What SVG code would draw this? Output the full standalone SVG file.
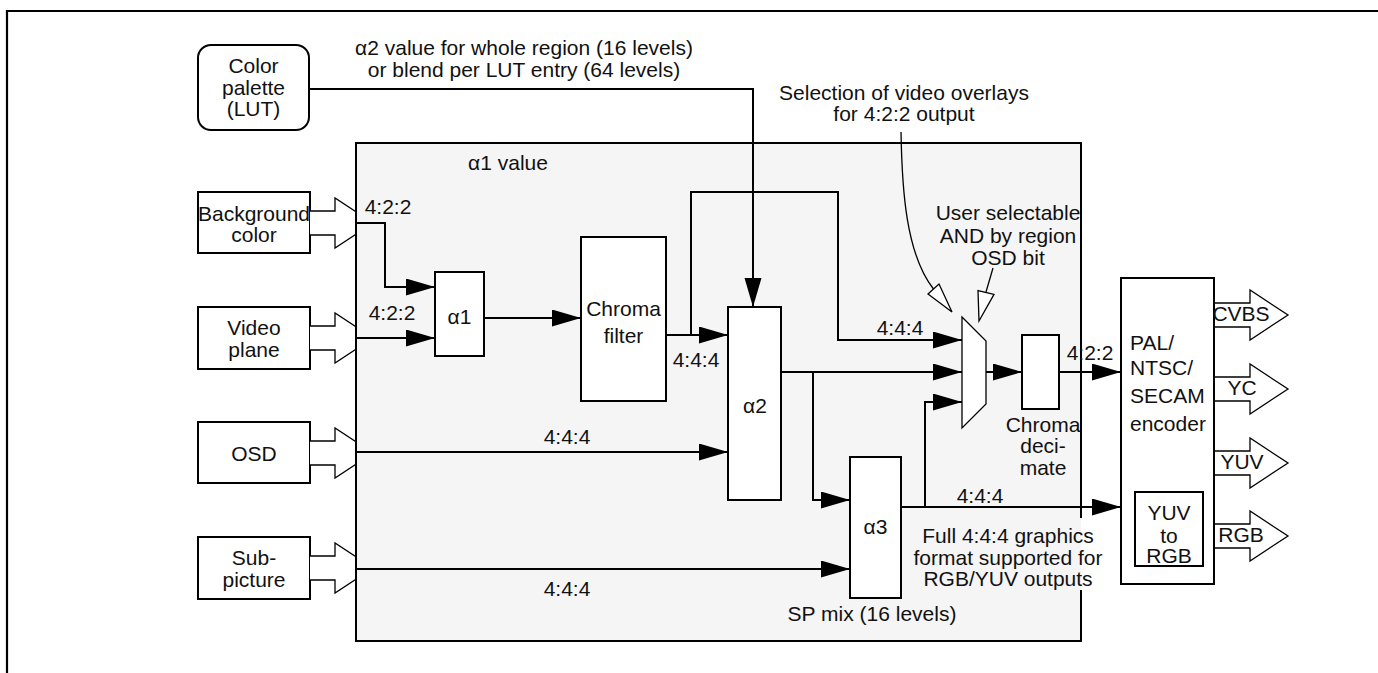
<svg xmlns="http://www.w3.org/2000/svg" width="1378" height="673" viewBox="0 0 1378 673">
<defs>
<style>
.box{fill:#fff;stroke:#000;stroke-width:2}
.t{font-family:"Liberation Sans",Arial,Helvetica,sans-serif;font-size:21px;fill:#111;text-anchor:middle}
.ts{text-anchor:start}
.w{fill:none;stroke:#000;stroke-width:2}
.fat{fill:#fff;stroke:#000;stroke-width:1.3}
.thin{fill:none;stroke:#000;stroke-width:1.3}
</style>
<marker id="ah" markerUnits="userSpaceOnUse" markerWidth="30" markerHeight="18" refX="29" refY="8.5" orient="auto">
<path d="M0,0 L29,8.5 L0,17 z" fill="#000"/>
</marker>
</defs>
<rect width="1378" height="673" fill="#fff"/>
<path d="M7,673 V11 H1378" fill="none" stroke="#000" stroke-width="2.2"/>

<g id="palette">
<rect x="198" y="45" width="111" height="85" rx="13" class="box" stroke-width="1.5"/>
<text class="t" x="253.5" y="72.5">Color</text>
<text class="t" x="253.5" y="94.5">palette</text>
<text class="t" x="253.5" y="115.5">(LUT)</text>
</g>

<g id="background">
<rect x="198" y="192" width="112" height="61" class="box"/>
<path class="fat" d="M310,211 H335 V198 L373,223 L335,248 V235 H310"/>
<text class="t" x="254" y="220.5">Background</text>
<text class="t" x="254" y="241.5">color</text>
</g>
<g id="video">
<rect x="198" y="307" width="112" height="62" class="box"/>
<path class="fat" d="M310,326 H335 V313 L373,338 L335,363 V350 H310"/>
<text class="t" x="254" y="334.5">Video</text>
<text class="t" x="254" y="356.5">plane</text>
</g>
<g id="osd">
<rect x="198" y="422" width="112" height="61" class="box"/>
<path class="fat" d="M310,441 H335 V428 L373,453 L335,478 V465 H310"/>
<text class="t" x="254" y="460.5">OSD</text>
</g>
<g id="subpicture">
<rect x="198" y="537" width="112" height="62" class="box"/>
<path class="fat" d="M310,556 H335 V543 L373,568 L335,593 V580 H310"/>
<text class="t" x="254" y="564.5">Sub-</text>
<text class="t" x="254" y="586.5">picture</text>
</g>

<g id="mixer">
<rect x="356" y="143" width="725" height="498" fill="#f5f5f5"/>
<path d="M1081,518 V143 H356 V641 H1081 V590" fill="none" stroke="#000" stroke-width="2"/>
<text class="t" x="508" y="169.5">α1 value</text>
<text class="t" x="872" y="620.5">SP mix (16 levels)</text>
</g>

<g id="alpha1">
<rect x="435" y="272" width="49" height="84" class="box"/>
<text class="t" x="459.5" y="323.5">α1</text>
</g>
<g id="chromafilter">
<rect x="581" y="237" width="85" height="164" class="box"/>
<text class="t" x="623.5" y="315.5">Chroma</text>
<text class="t" x="623.5" y="342.5">filter</text>
</g>
<g id="alpha2">
<rect x="728" y="307" width="53" height="193" class="box"/>
<text class="t" x="755" y="412.5">α2</text>
</g>
<g id="alpha3">
<rect x="850" y="457" width="51" height="141" class="box"/>
<text class="t" x="875.5" y="533.5">α3</text>
</g>
<g id="mux">
<polygon points="962,317 986,341 986,404 962,428" fill="#fff" stroke="#000" stroke-width="1.3"/>
</g>
<g id="chromadecimate">
<rect x="1022" y="335" width="37" height="74" class="box"/>
<text class="t" x="1043" y="431.5">Chroma</text>
<text class="t" x="1043" y="452.5">deci-</text>
<text class="t" x="1043" y="474.5">mate</text>
</g>
<g id="encoder">
<path class="fat" d="M1214,303 H1250 V290 L1288,315 L1250,340 V327 H1214"/>
<path class="fat" d="M1214,377 H1250 V364 L1288,389 L1250,414 V401 H1214"/>
<path class="fat" d="M1214,451 H1250 V438 L1288,463 L1250,488 V475 H1214"/>
<path class="fat" d="M1214,524 H1250 V511 L1288,536 L1250,561 V548 H1214"/>
<rect x="1121" y="278" width="93" height="306" class="box"/>
<text class="t ts" x="1130" y="349.5">PAL/</text>
<text class="t ts" x="1130" y="374.5">NTSC/</text>
<text class="t ts" x="1130" y="402.5">SECAM</text>
<text class="t ts" x="1130" y="430.5">encoder</text>
<text class="t" x="1241" y="320.5">CVBS</text>
<text class="t" x="1242" y="394.5">YC</text>
<text class="t" x="1242" y="468.5">YUV</text>
<text class="t" x="1241" y="541.5">RGB</text>
</g>
<g id="yuv2rgb">
<rect x="1135" y="492" width="68" height="74" class="box"/>
<text class="t" x="1169" y="519.5">YUV</text>
<text class="t" x="1169" y="542.5">to</text>
<text class="t" x="1169" y="562.5">RGB</text>
</g>

<g id="connectors">
<path class="w" d="M309,89 H753 V307" marker-end="url(#ah)"/>
<path class="w" d="M356,223 H385 V287 H435" marker-end="url(#ah)"/>
<path class="w" d="M356,338 H435" marker-end="url(#ah)"/>
<path class="w" d="M484,318 H581" marker-end="url(#ah)"/>
<path class="w" d="M666,335 H728" marker-end="url(#ah)"/>
<path class="w" d="M691,335 V192 H838 V340 H962" marker-end="url(#ah)"/>
<path class="w" d="M356,452 H728" marker-end="url(#ah)"/>
<path class="w" d="M781,372 H962" marker-end="url(#ah)"/>
<path class="w" d="M813,372 V500 H850" marker-end="url(#ah)"/>
<path class="w" d="M356,569 H850" marker-end="url(#ah)"/>
<path class="w" d="M901,507 H1121" marker-end="url(#ah)"/>
<path class="w" d="M925,507 V402 H962" marker-end="url(#ah)"/>
<path class="w" d="M986,372 H1022" marker-end="url(#ah)"/>
<path class="w" d="M1059,372 H1121" marker-end="url(#ah)"/>
<path class="thin" d="M901,132 C902,190 906,254 933.5,289"/>
<polygon points="952,312 928,294 939,284" fill="#fff" stroke="#000" stroke-width="1.3"/>
<path class="thin" d="M993,268 L986,292"/>
<polygon points="979,321 978,290.6 994,294.4" fill="#fff" stroke="#000" stroke-width="1.3"/>
</g>

<g id="labels">
<text class="t" x="524" y="54.5">α2 value for whole region (16 levels)</text>
<text class="t" x="524" y="76.5">or blend per LUT entry (64 levels)</text>
<text class="t" x="904" y="99.5">Selection of video overlays</text>
<text class="t" x="904" y="120.5">for 4:2:2 output</text>
<text class="t" x="1008" y="219.5">User selectable</text>
<text class="t" x="1008" y="242.5">AND by region</text>
<text class="t" x="1008" y="264.5">OSD bit</text>
<text class="t" x="388" y="213.5">4:2:2</text>
<text class="t" x="392" y="319.5">4:2:2</text>
<text class="t" x="696" y="366.5">4:4:4</text>
<text class="t" x="567" y="443.5">4:4:4</text>
<text class="t" x="567" y="595.5">4:4:4</text>
<text class="t" x="900" y="334.5">4:4:4</text>
<text class="t" x="980" y="502.5">4:4:4</text>
<text class="t" x="1090" y="359.5">4:2:2</text>
<text class="t" x="1008" y="542.5">Full 4:4:4 graphics</text>
<text class="t" x="1008" y="564.5">format supported for</text>
<text class="t" x="1008" y="585.5">RGB/YUV outputs</text>
</g>
</svg>
